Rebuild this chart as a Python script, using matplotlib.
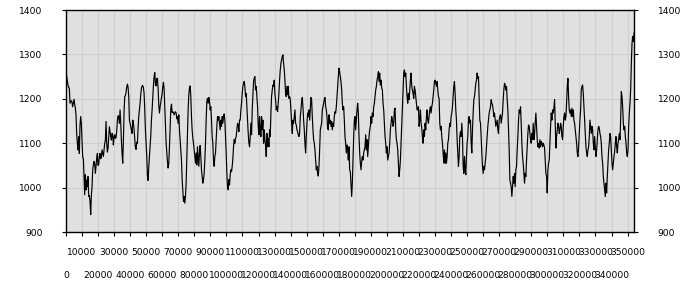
import numpy as np
import matplotlib
matplotlib.use("Agg")
import matplotlib.pyplot as plt
from matplotlib.ticker import FixedLocator, FixedFormatter

# series values (uniform sampling along x)
seg1 = [1261, 1251, 1242, 1231, 1226, 1224, 1190, 1193, 1196, 1192, 1182, 1190, 1199, 1188, 1179, 1164,
        1122, 1100, 1085, 1115, 1077, 1141, 1160, 1145, 1104, 1068, 1066, 1025, 984, 1029, 995, 1017,
        1002, 1025, 980, 982, 969, 939, 984, 1002, 1040, 1051, 1059, 1053, 1032, 1050, 1066, 1077,
        1050, 1053, 1070, 1077, 1065, 1068, 1085, 1077, 1070, 1085, 1100, 1107, 1149, 1100, 1080, 1089,
        1115, 1137, 1125, 1115, 1107, 1122, 1119, 1096, 1113, 1119, 1111, 1113, 1128, 1152, 1162, 1160,
        1145, 1175, 1145, 1107, 1077, 1055, 1107, 1171, 1205, 1207, 1215, 1227, 1233, 1226, 1205, 1152,
        1145, 1137, 1130, 1122, 1152, 1145, 1131, 1111, 1089, 1086, 1102, 1100, 1135, 1160, 1175, 1190,
        1210, 1223, 1229, 1230, 1225, 1212, 1175, 1130, 1100, 1070, 1027, 1016, 1047, 1070, 1090, 1117,
        1152, 1175, 1203, 1230, 1250, 1259, 1233, 1229, 1246]
seg2 = [1246, 1224, 1186, 1168, 1182, 1192, 1203, 1212, 1228, 1237, 1222, 1179, 1134, 1100, 1078, 1059,
        1044, 1055, 1092, 1138, 1177, 1188, 1169, 1171, 1169, 1164, 1168, 1171, 1168, 1155, 1160, 1145,
        1164, 1130, 1108, 1085, 1062, 1018, 995, 969, 980, 965, 980, 1010, 1062, 1122, 1175, 1209,
        1224, 1229, 1205, 1160, 1130, 1111, 1100, 1085, 1070, 1055, 1078, 1051, 1092, 1070, 1048, 1078,
        1095, 1070, 1040, 1025, 1010, 1018, 1032, 1062, 1100, 1152, 1194, 1201, 1190, 1203, 1194, 1175,
        1182, 1152, 1115, 1100, 1062, 1048, 1070, 1078, 1108, 1138, 1160, 1152, 1160, 1145, 1130, 1152,
        1138, 1160, 1145, 1160, 1166, 1152, 1115, 1078, 1032, 1002, 995, 1018, 1006, 1029, 1040, 1036,
        1048, 1066, 1092, 1108, 1100, 1111, 1115, 1130, 1145, 1141, 1126, 1152, 1152, 1175, 1190, 1212,
        1228, 1235, 1239, 1228, 1205, 1212, 1182, 1152, 1122, 1100, 1092, 1115, 1145]
seg3 = [1119, 1175, 1205, 1239, 1246, 1250, 1220, 1228, 1205, 1182, 1138, 1119, 1160, 1130, 1115, 1160,
        1130, 1152, 1100, 1130, 1108, 1096, 1070, 1122, 1092, 1111, 1092, 1130, 1115, 1168, 1205, 1220,
        1231, 1228, 1242, 1212, 1198, 1175, 1182, 1171, 1190, 1212, 1242, 1265, 1280, 1288, 1295, 1299,
        1280, 1265, 1242, 1212, 1205, 1228, 1209, 1228, 1201, 1205, 1198, 1175, 1145, 1122, 1152, 1145,
        1160, 1175, 1145, 1141, 1130, 1126, 1119, 1115, 1122, 1160, 1175, 1194, 1203, 1182, 1152, 1130,
        1100, 1078, 1115, 1145, 1168, 1160, 1175, 1152, 1175, 1203, 1198, 1160, 1130, 1108, 1100, 1085,
        1062, 1040, 1048, 1032, 1026, 1048, 1085, 1130, 1138, 1145, 1175, 1182, 1190, 1198, 1203, 1182,
        1175, 1160, 1134, 1130, 1164, 1145, 1152, 1138, 1149, 1130, 1145, 1138, 1160, 1171, 1168, 1182,
        1205, 1228, 1250, 1269, 1261, 1250, 1239, 1220, 1190, 1175, 1182, 1152]
seg4 = [1115, 1100, 1078, 1096, 1085, 1062, 1092, 1040, 1036, 1010, 980, 1010, 1062, 1115, 1152, 1160,
        1130, 1152, 1175, 1190, 1168, 1115, 1078, 1055, 1040, 1059, 1070, 1062, 1078, 1085, 1092, 1119,
        1085, 1108, 1070, 1092, 1115, 1130, 1138, 1160, 1145, 1168, 1160, 1182, 1190, 1205, 1220, 1228,
        1242, 1250, 1261, 1239, 1258, 1231, 1242, 1224, 1220, 1190, 1175, 1145, 1115, 1100, 1078, 1092,
        1062, 1070, 1078, 1100, 1130, 1145, 1160, 1152, 1138, 1145, 1175, 1179, 1130, 1108, 1100, 1085,
        1055, 1025, 1040, 1062, 1100, 1138, 1175, 1220, 1258, 1265, 1250, 1258, 1228, 1205, 1190, 1212,
        1198, 1220, 1242, 1258, 1228, 1220, 1212, 1201, 1228, 1220, 1205, 1190, 1175, 1175, 1182, 1138,
        1152, 1175, 1145, 1134, 1115, 1100, 1130, 1115, 1145, 1130, 1160, 1175, 1152, 1145, 1160, 1175,
        1182, 1168, 1182, 1190, 1205, 1220, 1239, 1242, 1235, 1228, 1239, 1220, 1205]
seg5 = [1201, 1145, 1130, 1138, 1115, 1100, 1078, 1055, 1085, 1055, 1078, 1055, 1070, 1100, 1108, 1130,
        1145, 1138, 1160, 1168, 1182, 1205, 1228, 1239, 1212, 1175, 1152, 1108, 1078, 1048, 1070, 1115,
        1126, 1115, 1145, 1115, 1048, 1032, 1070, 1040, 1029, 1070, 1100, 1115, 1152, 1160, 1145, 1152,
        1100, 1078, 1130, 1168, 1198, 1205, 1220, 1235, 1242, 1258, 1246, 1250, 1198, 1152, 1145, 1115,
        1078, 1048, 1032, 1048, 1040, 1055, 1070, 1092, 1115, 1138, 1152, 1168, 1175, 1182, 1198, 1190,
        1186, 1175, 1160, 1168, 1152, 1138, 1145, 1152, 1130, 1122, 1152, 1160, 1164, 1145, 1156, 1168,
        1198, 1220, 1235, 1231, 1220, 1228, 1198, 1175, 1130, 1085, 1018, 1010, 1002, 980, 1002, 1025,
        1010, 1032, 1002, 1040, 1048, 1085, 1115, 1152, 1175, 1168, 1182, 1145, 1100, 1070, 1055, 1032,
        1010, 1032, 1025, 1062, 1092, 1122, 1141, 1138, 1122, 1108, 1100, 1122, 1108]
seg6 = [1145, 1108, 1122, 1145, 1168, 1138, 1108, 1092, 1100, 1089, 1108, 1092, 1104, 1100, 1092, 1100,
        1096, 1089, 1062, 1032, 1025, 988, 1040, 1055, 1062, 1100, 1138, 1168, 1152, 1175, 1168, 1179,
        1198, 1145, 1089, 1115, 1130, 1145, 1138, 1122, 1130, 1145, 1138, 1115, 1108, 1138, 1160, 1168,
        1152, 1160, 1190, 1228, 1246, 1205, 1175, 1168, 1175, 1160, 1179, 1160, 1175, 1152, 1145, 1130,
        1115, 1100, 1078, 1070, 1092, 1122, 1152, 1175, 1220, 1228, 1231, 1212, 1182, 1152, 1122, 1092,
        1078, 1070, 1085, 1092, 1115, 1152, 1138, 1122, 1138, 1130, 1100, 1085, 1115, 1092, 1070, 1085,
        1108, 1130, 1138, 1134, 1122, 1115, 1100, 1070, 1055, 1025, 1010, 995, 980, 1010, 988, 1025,
        1055, 1085, 1100, 1122, 1115, 1085, 1055, 1040, 1055, 1070, 1081, 1100, 1115, 1092, 1078, 1100,
        1108, 1122, 1108, 1152, 1216, 1205, 1182, 1145, 1130, 1138, 1115, 1100, 1078, 1070, 1085, 1138,
        1168, 1190, 1220, 1280, 1325, 1340, 1329, 1348]

sample_step = 416
x_ticks = list(range(0, 350001, 10000))
y_ticks = [900, 1000, 1100, 1200, 1300, 1400]

values = np.array(seg1 + seg2 + seg3 + seg4 + seg5 + seg6, dtype=float)
xs = np.arange(len(values)) * sample_step

fig = plt.figure(figsize=(7, 3), dpi=100)
ax = fig.add_axes([66 / 700, 1 - 232 / 300, 568 / 700, 222 / 300])
ax.set_facecolor("#e0e0e0")
ax.plot(xs, values, color="black", linewidth=0.85)
ax.set_xlim(0, xs[-1])
ax.set_ylim(900, 1400)

major = x_ticks[0::2]
minor = x_ticks[1::2]
ax.xaxis.set_major_locator(FixedLocator(major))
ax.xaxis.set_major_formatter(FixedFormatter([str(v) for v in major]))
ax.xaxis.set_minor_locator(FixedLocator(minor))
ax.xaxis.set_minor_formatter(FixedFormatter([str(v) for v in minor]))
ax.set_yticks(y_ticks)
ax.set_yticklabels([str(v) for v in y_ticks])

fs = 6.6
ax.tick_params(axis="x", which="major", length=3, width=0.8, pad=25, labelsize=fs)
ax.tick_params(axis="x", which="minor", length=3, width=0.8, pad=8.5, labelsize=fs)
ax.tick_params(axis="y", which="major", length=3, width=0.8, labelsize=fs, pad=14,
               left=True, right=True, labelleft=True, labelright=True)

ax.grid(True, which="both", color="#cfcfcf", linewidth=0.8)
ax.set_axisbelow(True)
for s in ax.spines.values():
    s.set_color("black")
    s.set_linewidth(1.0)

fig.savefig("out.png", dpi=100)
